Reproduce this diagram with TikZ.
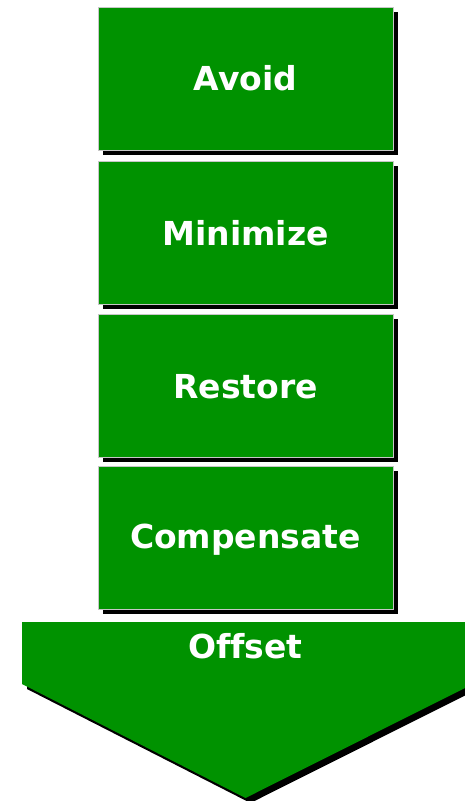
\documentclass[tikz,border=0pt]{standalone}
\usepackage{fontspec}
\setmainfont{DejaVu Sans}[Ligatures=NoCommon]
\usetikzlibrary{shadows}
\definecolor{stepgreen}{RGB}{0,146,0}
\tikzset{
  x=1pt, y=-1pt,
  shadowed/.style={drop shadow={shadow xshift=5pt, shadow yshift=-5pt, fill=black, opacity=1}},
  stepbox/.style={shadowed, fill=stepgreen, draw=black!22, line width=0.7pt,
    minimum width=295pt, minimum height=143pt, inner sep=0pt, anchor=north west},
  steplabel/.style={text=white, font=\fontsize{33}{37}\selectfont\bfseries},
}
\begin{document}
\begin{tikzpicture}
\useasboundingbox (0,0) rectangle (465,801);
\clip (0,0) rectangle (465,801);
\node[stepbox] (avoid) at (98,7) {};
\node[stepbox] (minimize) at (98,161) {};
\node[stepbox] (restore) at (98,314) {};
\node[stepbox] (compensate) at (98,466) {};
\node[steplabel] (tavoid) at (245.5,78) {Avoid};
\node[steplabel] (tminimize) at (245.5,233) {Minimize};
\node[steplabel] (trestore) at (245.5,387) {Restore};
\node[steplabel] (tcompensate) at (245.5,540) {Compensate};
\path[shadowed, fill=stepgreen] (22,622) -- (469,622) -- (469,686) -- (245.5,798) -- (22,684) -- cycle;
\node[steplabel] (toffset) at (245.5,646) {Of\kern0ptfset};
\end{tikzpicture}
\end{document}
